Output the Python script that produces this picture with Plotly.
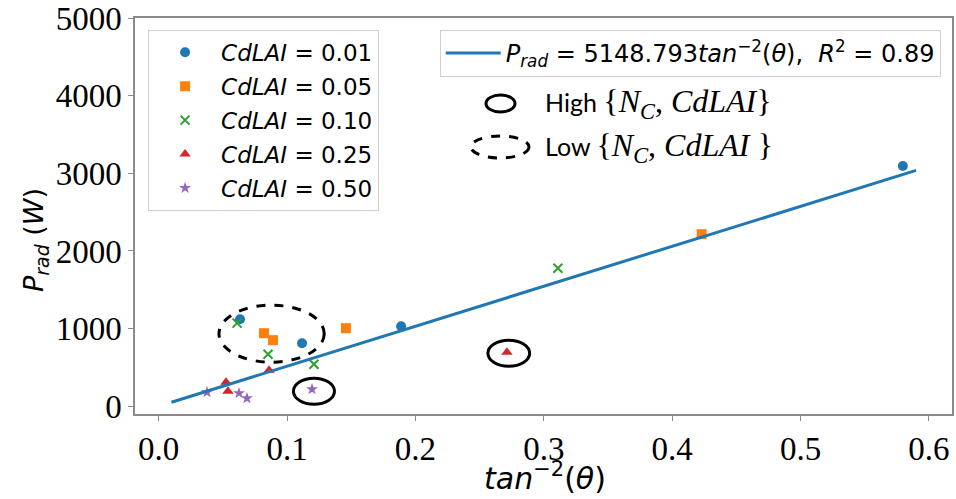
import plotly.graph_objects as go

# ---- data ----
cdlai_labels = ["0.01", "0.05", "0.10", "0.25", "0.50"]
x_001 = [0.0634, 0.1117, 0.1889, 0.5797]
y_001 = [1121, 812, 1031, 3093]
x_005 = [0.0821, 0.0891, 0.1459, 0.4230]
y_005 = [941, 851, 1005, 2216]
x_010 = [0.0611, 0.0852, 0.1210, 0.3110]
y_010 = [1070, 670, 541, 1778]
x_025 = [0.0525, 0.0540, 0.0860, 0.2713]
y_025 = [309, 193, 464, 696]
x_050 = [0.0377, 0.0626, 0.0688, 0.1195]
y_050 = [180, 168, 103, 219]

fit_coef = 5148.793
fit_r2 = 0.89
fit_x = [0.01, 0.59]
fit_y = [fit_coef * v for v in fit_x]

x_ticks = [0.0, 0.1, 0.2, 0.3, 0.4, 0.5, 0.6]
y_ticks = [0, 1000, 2000, 3000, 4000, 5000]

series = [
    (x_001, y_001, "#1f77b4", "circle", 10),
    (x_005, y_005, "#ff7f0e", "square", 10),
    (x_010, y_010, "#2ca02c", "x-thin-open", 9),
    (x_025, y_025, "#d62728", "triangle-up", 10),
    (x_050, y_050, "#9467bd", "star", 9),
]

fig = go.Figure()
for (xs, ys, col, sym, sz), lab in zip(series, cdlai_labels):
    mk = dict(color=col, symbol=sym, size=sz)
    if sym == "x-thin-open":
        mk["line"] = dict(color=col, width=2)
    fig.add_trace(go.Scatter(
        x=xs, y=ys, mode="markers", marker=mk,
        name=f"<i>CdLAI</i> = {lab}", legend="legend", legendgroup=lab,
    ))

fig.add_trace(go.Scatter(
    x=fit_x, y=fit_y, mode="lines",
    line=dict(color="#1f77b4", width=3),
    name=f"<i>P<sub>rad</sub></i> = {fit_coef}<i>tan</i><sup>−2</sup>(<i>θ</i>),  <i>R</i><sup>2</sup> = {fit_r2}",
    legend="legend2",
))

# ellipses highlighting groups (data coords)
fig.add_shape(type="circle", xref="x", yref="y", x0=0.047, x1=0.129, y0=567, y1=1302,
              line=dict(color="black", width=3, dash="dash"))
fig.add_shape(type="circle", xref="x", yref="y", x0=0.105, x1=0.137, y0=26, y1=361,
              line=dict(color="black", width=3))
fig.add_shape(type="circle", xref="x", yref="y", x0=0.2565, x1=0.289, y0=515, y1=851,
              line=dict(color="black", width=3))

def px2paper(px, py):
    return (px - 135) / 817, (414 - py) / 396

# legend-like icons for High / Low
a0, b0 = px2paper(486, 112); a1, b1 = px2paper(515, 95)
fig.add_shape(type="circle", xref="paper", yref="paper", x0=a0, x1=a1, y0=b0, y1=b1,
              line=dict(color="black", width=3))
a0, b0 = px2paper(471, 158); a1, b1 = px2paper(529, 136)
fig.add_shape(type="circle", xref="paper", yref="paper", x0=a0, x1=a1, y0=b0, y1=b1,
              line=dict(color="black", width=3, dash="dash"))

serif = "Liberation Serif"
tx, ty = px2paper(543, 103)
fig.add_annotation(xref="paper", yref="paper", x=tx, y=ty, xanchor="left", yanchor="middle",
                   showarrow=False, font=dict(family="Lato", size=25, color="black"),
                   text=f"High <span style='font-family:{serif};font-size:32px'>{{<i>N<sub>C</sub></i>, <i>CdLAI</i>}}</span>")
tx, ty = px2paper(543, 147)
fig.add_annotation(xref="paper", yref="paper", x=tx, y=ty, xanchor="left", yanchor="middle",
                   showarrow=False, font=dict(family="Lato", size=25, color="black"),
                   text=f"Low <span style='font-family:{serif};font-size:32px'>{{<i>N<sub>C</sub></i>, <i>CdLAI</i> }}</span>")

# axis titles
tx, ty = px2paper(545, 476)
fig.add_annotation(xref="paper", yref="paper", x=tx, y=ty, xanchor="center", yanchor="middle",
                   showarrow=False, font=dict(family="DejaVu Sans", size=30, color="black"),
                   text="<i>tan</i><sup>−2</sup>(<i>θ</i>)")
tx, ty = px2paper(36, 240)
fig.add_annotation(xref="paper", yref="paper", x=tx, y=ty, xanchor="center", yanchor="middle",
                   showarrow=False, textangle=-90, font=dict(family="DejaVu Sans", size=27, color="black"),
                   text="<i>P<sub>rad</sub></i> (<i>W</i>)")

axis_common = dict(
    showgrid=False, zeroline=False, showline=True, linecolor="#8a8a8a", linewidth=1.5,
    mirror=True, ticks="outside", ticklen=5, tickcolor="#8a8a8a", automargin=False,
    tickfont=dict(family=serif, size=33, color="black"),
)

fig.update_layout(
    width=956, height=499,
    margin=dict(l=135, r=4, t=18, b=85),
    paper_bgcolor="white", plot_bgcolor="white",
    xaxis=dict(range=[-0.0184, 0.618], tickvals=x_ticks, ticktext=[f"{v:.1f}" for v in x_ticks],
               **axis_common),
    yaxis=dict(range=[-100, 5000], tickvals=y_ticks, ticktext=[str(v) for v in y_ticks],
               **axis_common),
    legend=dict(x=0.016, y=0.97, xanchor="left", yanchor="top",
                bordercolor="#d0d0d0", borderwidth=1, bgcolor="rgba(255,255,255,0.9)",
                font=dict(family="DejaVu Sans", size=23, color="black"),
                itemwidth=62, tracegroupgap=1),
    legend2=dict(x=0.373, y=0.97, xanchor="left", yanchor="top",
                 bordercolor="#d0d0d0", borderwidth=1, bgcolor="rgba(255,255,255,0.9)",
                 font=dict(family="DejaVu Sans", size=24, color="black"),
                 itemwidth=55),
    showlegend=True,
)

fig.write_html("out.html", config={"displayModeBar": False},
               post_script="document.body.style.margin='0';document.body.style.overflow='hidden';")
